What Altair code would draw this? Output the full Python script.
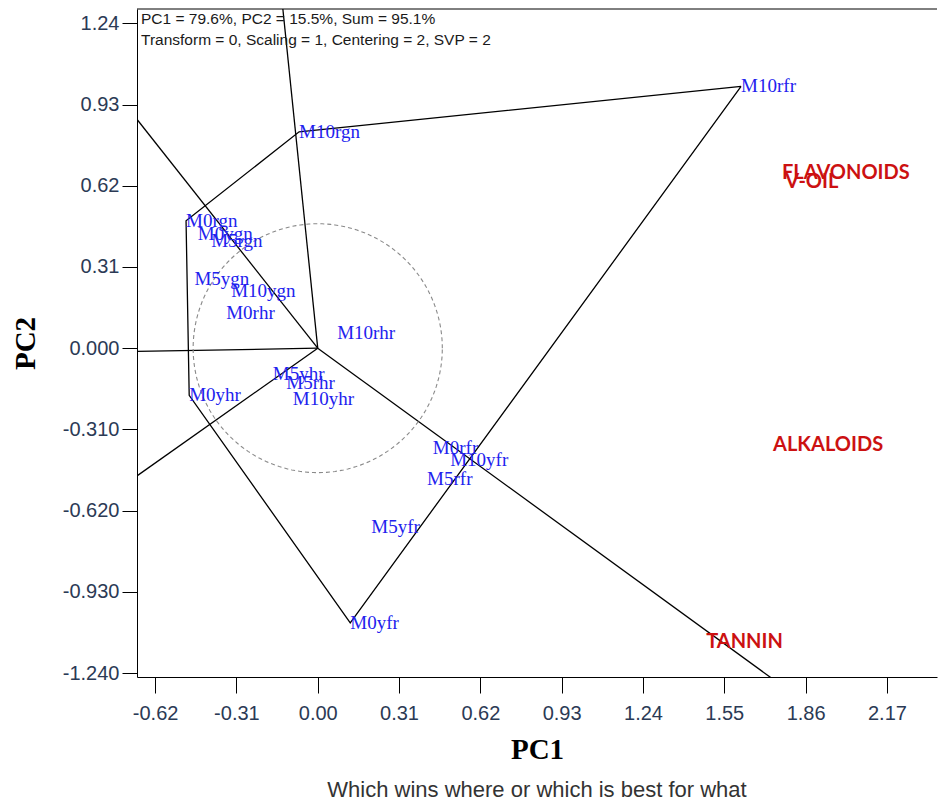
import altair as alt
import pandas as pd
import numpy as np

# ---- data ----
genotypes = ["M10rfr", "M10rgn", "M0rgn", "M0ygn", "M5rgn", "M5ygn", "M10ygn", "M0rhr",
             "M10rhr", "M5yhr", "M5rhr", "M10yhr", "M0yhr", "M0rfr", "M10yfr", "M5rfr",
             "M5yfr", "M0yfr"]
gen_pc1 = [1.614, -0.071, -0.502, -0.457, -0.406, -0.470, -0.330, -0.349,
           0.074, -0.171, -0.120, -0.095, -0.490, 0.439, 0.505, 0.417,
           0.204, 0.124]
gen_pc2 = [0.999, 0.826, 0.486, 0.436, 0.410, 0.265, 0.219, 0.136,
           0.058, -0.098, -0.131, -0.193, -0.180, -0.380, -0.426, -0.499,
           -0.682, -1.048]

traits = ["FLAVONOIDS", "V-OIL", "ALKALOIDS", "TANNIN"]
trait_pc1 = [1.770, 1.782, 1.736, 1.481]
trait_pc2 = [0.669, 0.635, -0.369, -1.121]

hull = ["M10rfr", "M10rgn", "M0rgn", "M0yhr", "M0yfr"]
circle_radius = 0.475

x_ticks = [-0.62, -0.31, 0.00, 0.31, 0.62, 0.93, 1.24, 1.55, 1.86, 2.17]
y_ticks = [-1.24, -0.93, -0.62, -0.31, 0.00, 0.31, 0.62, 0.93, 1.24]

info_line1 = "PC1 = 79.6%, PC2 = 15.5%, Sum = 95.1%"
info_line2 = "Transform = 0, Scaling = 1, Centering = 2, SVP = 2"
footer = "Which wins where or which is best for what"

# ---- layout ----
W, H = 800, 668
x_dom = [-0.689, -0.689 + W / 262.3]
y_dom = [-1.255, -1.255 + H / 262.0]

gen_df = pd.DataFrame({"name": genotypes, "pc1": gen_pc1, "pc2": gen_pc2})
trait_df = pd.DataFrame({"name": traits, "pc1": trait_pc1, "pc2": trait_pc2})

pts = dict(zip(genotypes, zip(gen_pc1, gen_pc2)))
poly_rows = []
for i, n in enumerate(hull + [hull[0]]):
    poly_rows.append({"i": i, "pc1": pts[n][0], "pc2": pts[n][1]})
poly_df = pd.DataFrame(poly_rows)

ray_rows = []
for i in range(len(hull)):
    A = np.array(pts[hull[i]])
    B = np.array(pts[hull[(i + 1) % len(hull)]])
    d = B - A
    t = -A.dot(d) / d.dot(d)
    P = A + t * d
    u = P / np.linalg.norm(P) * 6
    ray_rows.append({"x": 0.0, "y": 0.0, "x2": float(u[0]), "y2": float(u[1])})
ray_df = pd.DataFrame(ray_rows)

xs = alt.Scale(domain=x_dom, nice=False, zero=False)
ys = alt.Scale(domain=y_dom, nice=False, zero=False)

label_color = "#2B3A55"

x_axis = alt.Axis(values=x_ticks, title="PC1",
                  labelExpr="replace(format(datum.value, '.2f'), '\u2212', '-')",
                  labelFont="Liberation Sans", labelFontSize=20, labelColor=label_color,
                  titleFont="Liberation Serif", titleFontSize=29, titleFontWeight="bold",
                  titleColor="black", titlePadding=12,
                  tickSize=16, tickColor="black", domainColor="black", grid=False,
                  labelPadding=10, labelFlush=False, labelOverlap=False)
y_axis = alt.Axis(values=y_ticks, title="PC2",
                  labelExpr="datum.value > 0.1 ? format(datum.value, '.2f') : replace(format(datum.value, '.3f'), '\u2212', '-')",
                  labelFont="Liberation Sans", labelFontSize=20, labelColor=label_color,
                  titleFont="Liberation Serif", titleFontSize=29, titleFontWeight="bold",
                  titleColor="black", titlePadding=22,
                  tickSize=15, tickColor="black", domainColor="black", grid=False,
                  labelPadding=3, labelFlush=False, labelOverlap=False)

rays = alt.Chart(ray_df).mark_rule(color="black", strokeWidth=1.3, clip=True).encode(
    x=alt.X("x:Q", scale=xs, axis=x_axis),
    y=alt.Y("y:Q", scale=ys, axis=y_axis),
    x2="x2:Q", y2="y2:Q")

polygon = alt.Chart(poly_df).mark_line(color="black", strokeWidth=1.3, clip=True).encode(
    x=alt.X("pc1:Q", scale=xs), y=alt.Y("pc2:Q", scale=ys), order="i:Q")

circle = alt.Chart(alt.sequence(0, 362, 2, as_="t")).transform_calculate(
    cx=f"{circle_radius} * cos(datum.t * PI / 180)",
    cy=f"{circle_radius} * sin(datum.t * PI / 180)"
).mark_line(color="#8a8a8a", strokeWidth=1.1, strokeDash=[4, 3], clip=True).encode(
    x=alt.X("cx:Q", scale=xs), y=alt.Y("cy:Q", scale=ys), order="t:Q")

gen_text = alt.Chart(gen_df).mark_text(align="left", baseline="middle",
                                       font="Liberation Serif", fontSize=19,
                                       color="#2222EE").encode(
    x=alt.X("pc1:Q", scale=xs), y=alt.Y("pc2:Q", scale=ys), text="name:N")

trait_text = alt.Chart(trait_df).mark_text(align="left", baseline="middle",
                                           font="Lato", fontSize=20, fontWeight="bold",
                                           color="#CC1111").encode(
    x=alt.X("pc1:Q", scale=xs), y=alt.Y("pc2:Q", scale=ys), text="name:N")

info1 = alt.Chart(pd.DataFrame({"t": [info_line1]})).mark_text(
    align="left", baseline="middle", font="Liberation Sans", fontSize=15.5,
    color="#1a1a1a").encode(x=alt.value(4), y=alt.value(10), text="t:N")
info2 = alt.Chart(pd.DataFrame({"t": [info_line2]})).mark_text(
    align="left", baseline="middle", font="Liberation Sans", fontSize=15.5,
    color="#1a1a1a").encode(x=alt.value(4), y=alt.value(31), text="t:N")

top_line = alt.Chart(pd.DataFrame({"a": [0]})).mark_rule(color="black", strokeWidth=1).encode(
    x=alt.value(0), x2=alt.value(W), y=alt.value(0))

chart = alt.layer(rays, polygon, circle, gen_text, trait_text, info1, info2, top_line).properties(
    width=W, height=H,
    padding={"left": 3, "top": 0, "right": 0, "bottom": 0},
    title=alt.TitleParams(text=footer, orient="bottom", anchor="middle",
                          font="Liberation Sans", fontSize=22, fontWeight="normal",
                          color="#333333", offset=16)
).configure_view(stroke=None)

chart.save("out.html", embed_options={"renderer": "svg", "actions": False})
